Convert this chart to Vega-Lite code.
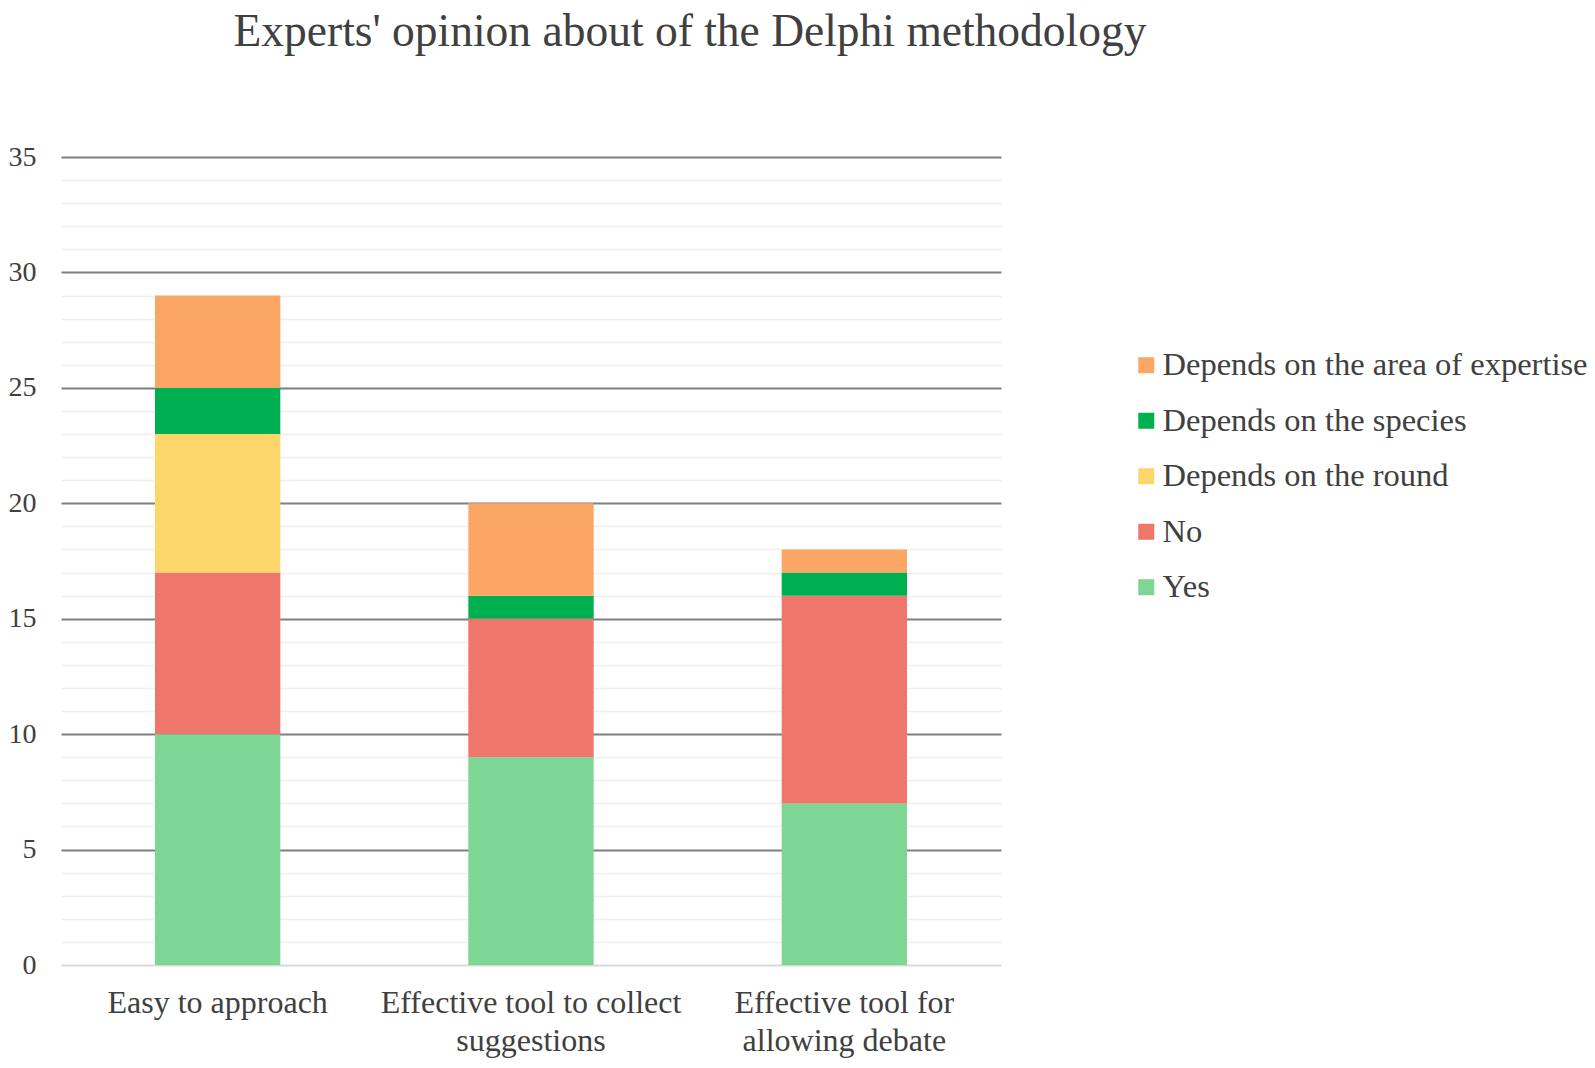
{
  "$schema": "https://vega.github.io/schema/vega-lite/v6.json",
  "autosize": {"type": "none"},
  "padding": {"left": 61, "top": 157, "right": 594, "bottom": 103},
  "width": 940,
  "height": 808,
  "background": "white",
  "title": {
    "text": "Experts' opinion about of the Delphi methodology",
    "anchor": "middle",
    "frame": "group",
    "dx": 159,
    "offset": 88,
    "font": "Liberation Serif",
    "fontSize": 45.5,
    "fontWeight": "normal",
    "color": "#404040"
  },
  "data": {
    "values": [
      {"aspect": "Easy to approach", "answer": "Yes", "count": 10},
      {"aspect": "Easy to approach", "answer": "No", "count": 7},
      {"aspect": "Easy to approach", "answer": "Depends on the round", "count": 6},
      {"aspect": "Easy to approach", "answer": "Depends on the species", "count": 2},
      {"aspect": "Easy to approach", "answer": "Depends on the area of expertise", "count": 4},
      {"aspect": "Effective tool to collect suggestions", "answer": "Yes", "count": 9},
      {"aspect": "Effective tool to collect suggestions", "answer": "No", "count": 6},
      {"aspect": "Effective tool to collect suggestions", "answer": "Depends on the round", "count": 0},
      {"aspect": "Effective tool to collect suggestions", "answer": "Depends on the species", "count": 1},
      {"aspect": "Effective tool to collect suggestions", "answer": "Depends on the area of expertise", "count": 4},
      {"aspect": "Effective tool for allowing debate", "answer": "Yes", "count": 7},
      {"aspect": "Effective tool for allowing debate", "answer": "No", "count": 9},
      {"aspect": "Effective tool for allowing debate", "answer": "Depends on the round", "count": 0},
      {"aspect": "Effective tool for allowing debate", "answer": "Depends on the species", "count": 1},
      {"aspect": "Effective tool for allowing debate", "answer": "Depends on the area of expertise", "count": 1}
    ]
  },
  "transform": [
    {"calculate": "indexof(['Yes', 'No', 'Depends on the round', 'Depends on the species', 'Depends on the area of expertise'], datum.answer)", "as": "stackOrder"}
  ],
  "mark": {"type": "bar"},
  "encoding": {
    "x": {
      "field": "aspect",
      "type": "nominal",
      "sort": null,
      "scale": {"paddingInner": 0.6, "paddingOuter": 0.3},
      "axis": {
        "title": null,
        "labelAngle": 0,
        "domain": false,
        "ticks": false,
        "labelPadding": 22,
        "labelLineHeight": 38,
        "labelFontSize": 32,
        "labelLimit": 400,
        "labelExpr": "datum.label == 'Effective tool to collect suggestions' ? ['Effective tool to collect', 'suggestions'] : datum.label == 'Effective tool for allowing debate' ? ['Effective tool for', 'allowing debate'] : datum.label"
      }
    },
    "y": {
      "field": "count",
      "type": "quantitative",
      "stack": "zero",
      "scale": {"domain": [0, 35], "nice": false},
      "axis": {
        "title": null,
        "values": [0, 1, 2, 3, 4, 5, 6, 7, 8, 9, 10, 11, 12, 13, 14, 15, 16, 17, 18, 19, 20, 21, 22, 23, 24, 25, 26, 27, 28, 29, 30, 31, 32, 33, 34, 35],
        "labelExpr": "datum.value % 5 === 0 ? datum.label : ''",
        "labelOverlap": false,
        "labelPadding": 25,
        "labelFontSize": 28,
        "domain": false,
        "ticks": false,
        "grid": true,
        "gridColor": {
          "condition": [
            {"test": "datum.value === 0", "value": "#d9d9d9"},
            {"test": "datum.value % 5 === 0", "value": "#7f7f7f"}
          ],
          "value": "#efefef"
        },
        "gridWidth": {
          "condition": {"test": "datum.value % 5 === 0", "value": 2},
          "value": 1.5
        }
      }
    },
    "order": {"field": "stackOrder", "type": "quantitative", "sort": "ascending"},
    "color": {
      "field": "answer",
      "type": "nominal",
      "scale": {
        "domain": ["Depends on the area of expertise", "Depends on the species", "Depends on the round", "No", "Yes"],
        "range": ["#fca666", "#00b050", "#fcd56b", "#ee766b", "#7dd694"]
      },
      "legend": {
        "title": null,
        "orient": "none",
        "legendX": 1069,
        "legendY": 192,
        "symbolType": "square",
        "symbolSize": 256,
        "symbolStrokeWidth": 0,
        "symbolOpacity": 1,
        "labelOffset": 0,
        "rowPadding": 22.5,
        "labelFontSize": 32.5,
        "labelLimit": 600
      }
    }
  },
  "config": {
    "view": {"stroke": null},
    "font": "Liberation Serif",
    "axis": {"labelFont": "Liberation Serif", "labelFontSize": 30, "labelColor": "#404040"},
    "legend": {"labelFont": "Liberation Serif", "labelColor": "#404040"}
  }
}
